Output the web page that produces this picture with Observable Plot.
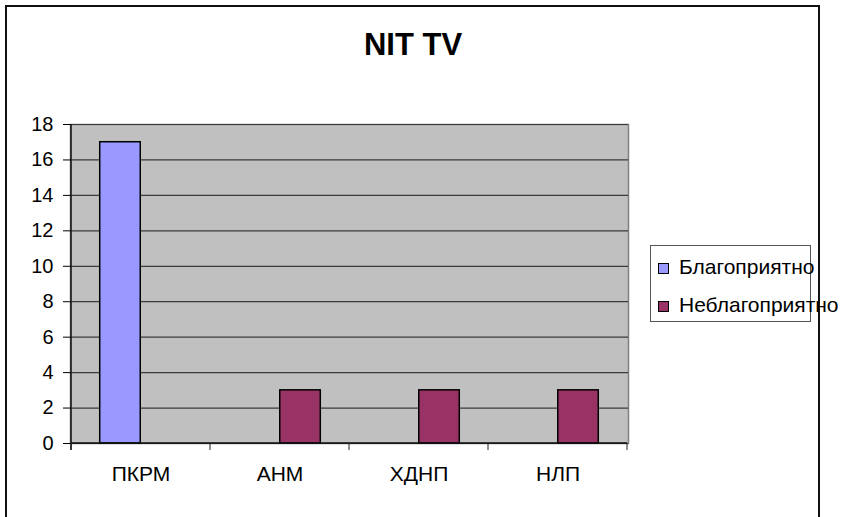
<!DOCTYPE html>
<html>
<head>
<meta charset="utf-8">
<script src="https://cdn.jsdelivr.net/npm/d3@7"></script>
<script src="https://cdn.jsdelivr.net/npm/@observablehq/plot@0.6"></script>
<style>
  html, body { margin: 0; padding: 0; background: #fff; overflow: hidden; }
  #wrap { position: relative; width: 841px; height: 517px; overflow: hidden; font-family: "Liberation Sans", Arial, sans-serif; }
  #border { position: absolute; left: 5px; top: 5px; width: 811px; height: 600px; border: 2px solid #111; box-sizing: content-box; }
  #title { position: absolute; left: 0; top: 29px; width: 826px; text-align: center; font-weight: bold; font-size: 31px; line-height: 31px; color: #000; }
  #chart { position: absolute; left: 0; top: 0; }
  #legend { position: absolute; left: 650px; top: 245px; width: 159px; height: 75px; border: 1.5px solid #555; background: #fff; }
  .item { position: absolute; left: 7px; height: 22px; font-size: 21px; line-height: 22px; color: #000; white-space: nowrap; }
  .sw { position: absolute; left: 0; top: 4px; width: 9px; height: 9px; border: 1.5px solid #000; }
  .lab { position: absolute; left: 21px; top: -3px; }
</style>
</head>
<body>
<div id="wrap">
  <div id="chart"></div>
  <div id="border"></div>
  <div id="title">NIT TV</div>
  <div id="legend"></div>
</div>
<script>
const categories = ["ПКРМ", "АНМ", "ХДНП", "НЛП"];
const series = ["Благоприятно", "Неблагоприятно"];
const favorable = [17, 0, 0, 0];
const unfavorable = [0, 3, 3, 3];
const yTicks = [0, 2, 4, 6, 8, 10, 12, 14, 16, 18];
const colors = ["#9999ff", "#993366"];

const W = 841, H = 517;
const margin = {left: 70, right: 213, top: 124, bottom: 74};
const bandW = (W - margin.left - margin.right) / categories.length;
const barW = bandW / (series.length + 1.4);
const outer = (bandW - series.length * barW) / 2;

const rows = [];
[favorable, unfavorable].forEach((vals, si) => {
  vals.forEach((v, ci) => rows.push({cat: categories[ci], series: series[si], si, value: v}));
});

function barsFor(si) {
  const left = outer + si * barW;
  const right = bandW - left - barW;
  return Plot.barY(rows.filter(d => d.si === si && d.value > 0), {
    x: "cat", y: "value", fill: "series",
    stroke: "#000", strokeWidth: 1.5,
    insetLeft: left, insetRight: right
  });
}

function decorations(index, scales, values, dims) {
  const g = d3.create("svg:g");
  const x = scales.x, y = scales.y;
  const step = x(categories[1]) - x(categories[0]);
  const edges = categories.map(c => x(c)).concat([x(categories[categories.length - 1]) + step]);
  const y0 = y(0), yTop = y(yTicks[yTicks.length - 1]);
  g.append("line").attr("x1", edges[0]).attr("x2", edges[0]).attr("y1", yTop).attr("y2", y0 + 7)
    .attr("stroke", "#111").attr("stroke-width", 1.5);
  g.append("line").attr("x1", edges[0]).attr("x2", edges[edges.length - 1]).attr("y1", y0).attr("y2", y0)
    .attr("stroke", "#111").attr("stroke-width", 1.5);
  edges.forEach(e => {
    g.append("line").attr("x1", e).attr("x2", e).attr("y1", y0).attr("y2", y0 + 7)
      .attr("stroke", "#222").attr("stroke-width", 1);
  });
  return g.node();
}

const plot = Plot.plot({
  width: W, height: H,
  marginLeft: margin.left, marginRight: margin.right,
  marginTop: margin.top, marginBottom: margin.bottom,
  style: {fontFamily: "'Liberation Sans', Arial, sans-serif", color: "#000", background: "transparent"},
  x: {domain: categories, padding: 0, axis: null},
  y: {domain: [0, 18], axis: null},
  color: {domain: series, range: colors},
  marks: [
    Plot.frame({fill: "#c0c0c0", stroke: "#808080", strokeWidth: 1.5}),
    Plot.ruleY(yTicks, {stroke: "#3a3a3a", strokeWidth: 1.2}),
    barsFor(0),
    barsFor(1),
    decorations,
    Plot.axisY({ticks: yTicks, tickSize: 7, tickPadding: 10, fontSize: 20, tickFormat: d => String(d), label: null}),
    Plot.axisX({tickSize: 0, tickPadding: 23, fontSize: 21, label: null})
  ]
});
document.getElementById("chart").appendChild(plot);

const color = plot.scale("color");
const legend = document.getElementById("legend");
series.forEach((s, i) => {
  const item = document.createElement("div");
  item.className = "item";
  item.style.top = (13 + i * 38) + "px";
  const sw = document.createElement("div");
  sw.className = "sw";
  sw.style.background = color.apply(s);
  const lab = document.createElement("div");
  lab.className = "lab";
  lab.textContent = s;
  item.appendChild(sw);
  item.appendChild(lab);
  legend.appendChild(item);
});
</script>
</body>
</html>
